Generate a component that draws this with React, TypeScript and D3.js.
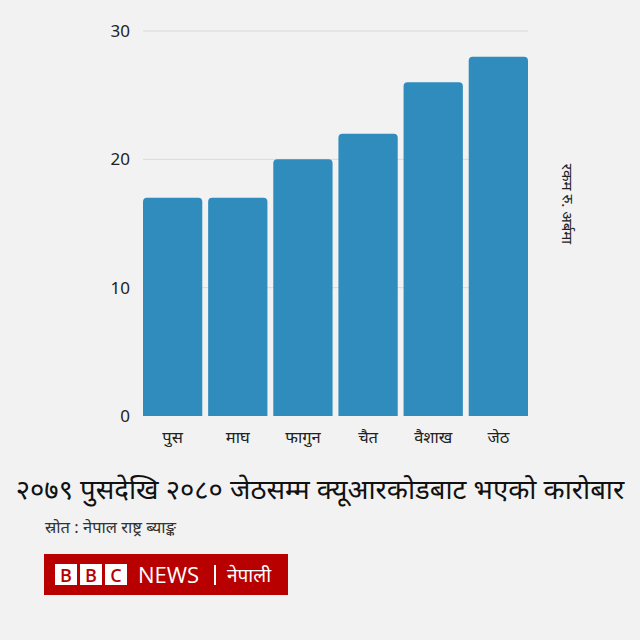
import React from "react";
import * as d3 from "d3";

const months = ["पुस", "माघ", "फागुन", "चैत", "वैशाख", "जेठ"];
const amounts = [17, 17, 20, 22, 26, 28];
const yTicks = [0, 10, 20, 30];
const titleText = "२०७९ पुसदेखि २०८० जेठसम्म क्यूआरकोडबाट भएको कारोबार";
const sourceText = "स्रोत : नेपाल राष्ट्र ब्याङ्क";
const unitText = "रकम रु. अर्बमा";

const W = 640;
const H = 640;
const BG = "#f2f2f2";
const BAR = "#2f8cbc";
const FONT = "'Noto Sans', 'Open Sans', sans-serif";

function topRoundedRect(x: number, y: number, w: number, h: number, r: number) {
  const rr = Math.min(r, h, w / 2);
  const p = d3.path();
  p.moveTo(x, y + h);
  p.lineTo(x, y + rr);
  p.arcTo(x, y, x + rr, y, rr);
  p.lineTo(x + w - rr, y);
  p.arcTo(x + w, y, x + w, y + rr, rr);
  p.lineTo(x + w, y + h);
  p.closePath();
  return p.toString();
}

export default function App() {
  const x = d3.scaleBand<string>().domain(months).range([143, 528]).paddingInner(0.09).paddingOuter(0);
  const y = d3.scaleLinear().domain([0, 30]).range([416, 31]);

  return (
    <svg width={W} height={H} style={{ position: "absolute", left: 0, top: 0, display: "block" }}>
      <rect x={0} y={0} width={W} height={H} fill={BG} />
      {yTicks.map((t) => (
        <g key={t}>
          {t > 0 && (
            <line x1={143} x2={528} y1={y(t)} y2={y(t)} stroke="#d9d9d9" strokeWidth={1} />
          )}
          <text x={130} y={y(t)} dy="0.35em" textAnchor="end" fontSize={17} fill="#222" fontFamily={FONT}>
            {t}
          </text>
        </g>
      ))}
      {months.map((m, i) => (
        <path
          key={m}
          d={topRoundedRect(x(m)!, y(amounts[i]), x.bandwidth(), y(0) - y(amounts[i]), 4)}
          fill={BAR}
        />
      ))}
      {months.map((m) => (
        <text key={m} x={x(m)! + x.bandwidth() / 2} y={443} textAnchor="middle" fontSize={16.5} fill="#222" fontFamily={FONT}>
          {m}
        </text>
      ))}
      <text
        transform={`translate(562, 204) rotate(90)`}
        textAnchor="middle"
        fontSize={15}
        fill="#222"
        fontFamily={FONT}
      >
        {unitText}
      </text>
      <text x={320} y={499} textAnchor="middle" fontSize={27.5} fill="#111" fontFamily={FONT}>
        {titleText}
      </text>
      <text x={45} y={533} fontSize={16.5} fill="#333" fontFamily={FONT}>
        {sourceText}
      </text>
      <g>
        <rect x={44} y={554} width={244} height={41} fill="#b80000" />
        {["B", "B", "C"].map((c, i) => (
          <g key={i}>
            <rect x={55 + i * 25} y={564} width={22} height={21} fill="#fff" />
            <text x={55 + i * 25 + 11} y={581.5} textAnchor="middle" fontSize={18} fontWeight={600} fill="#b80000" fontFamily="'Open Sans', sans-serif">
              {c}
            </text>
          </g>
        ))}
        <text x={138} y={583} fontSize={22} fill="#fff" fontFamily="'Open Sans', sans-serif">NEWS</text>
        <rect x={214} y={565} width={2} height={20} fill="#fff" />
        <text x={227} y={582} fontSize={19} fill="#fff" fontFamily={FONT}>नेपाली</text>
      </g>
    </svg>
  );
}
